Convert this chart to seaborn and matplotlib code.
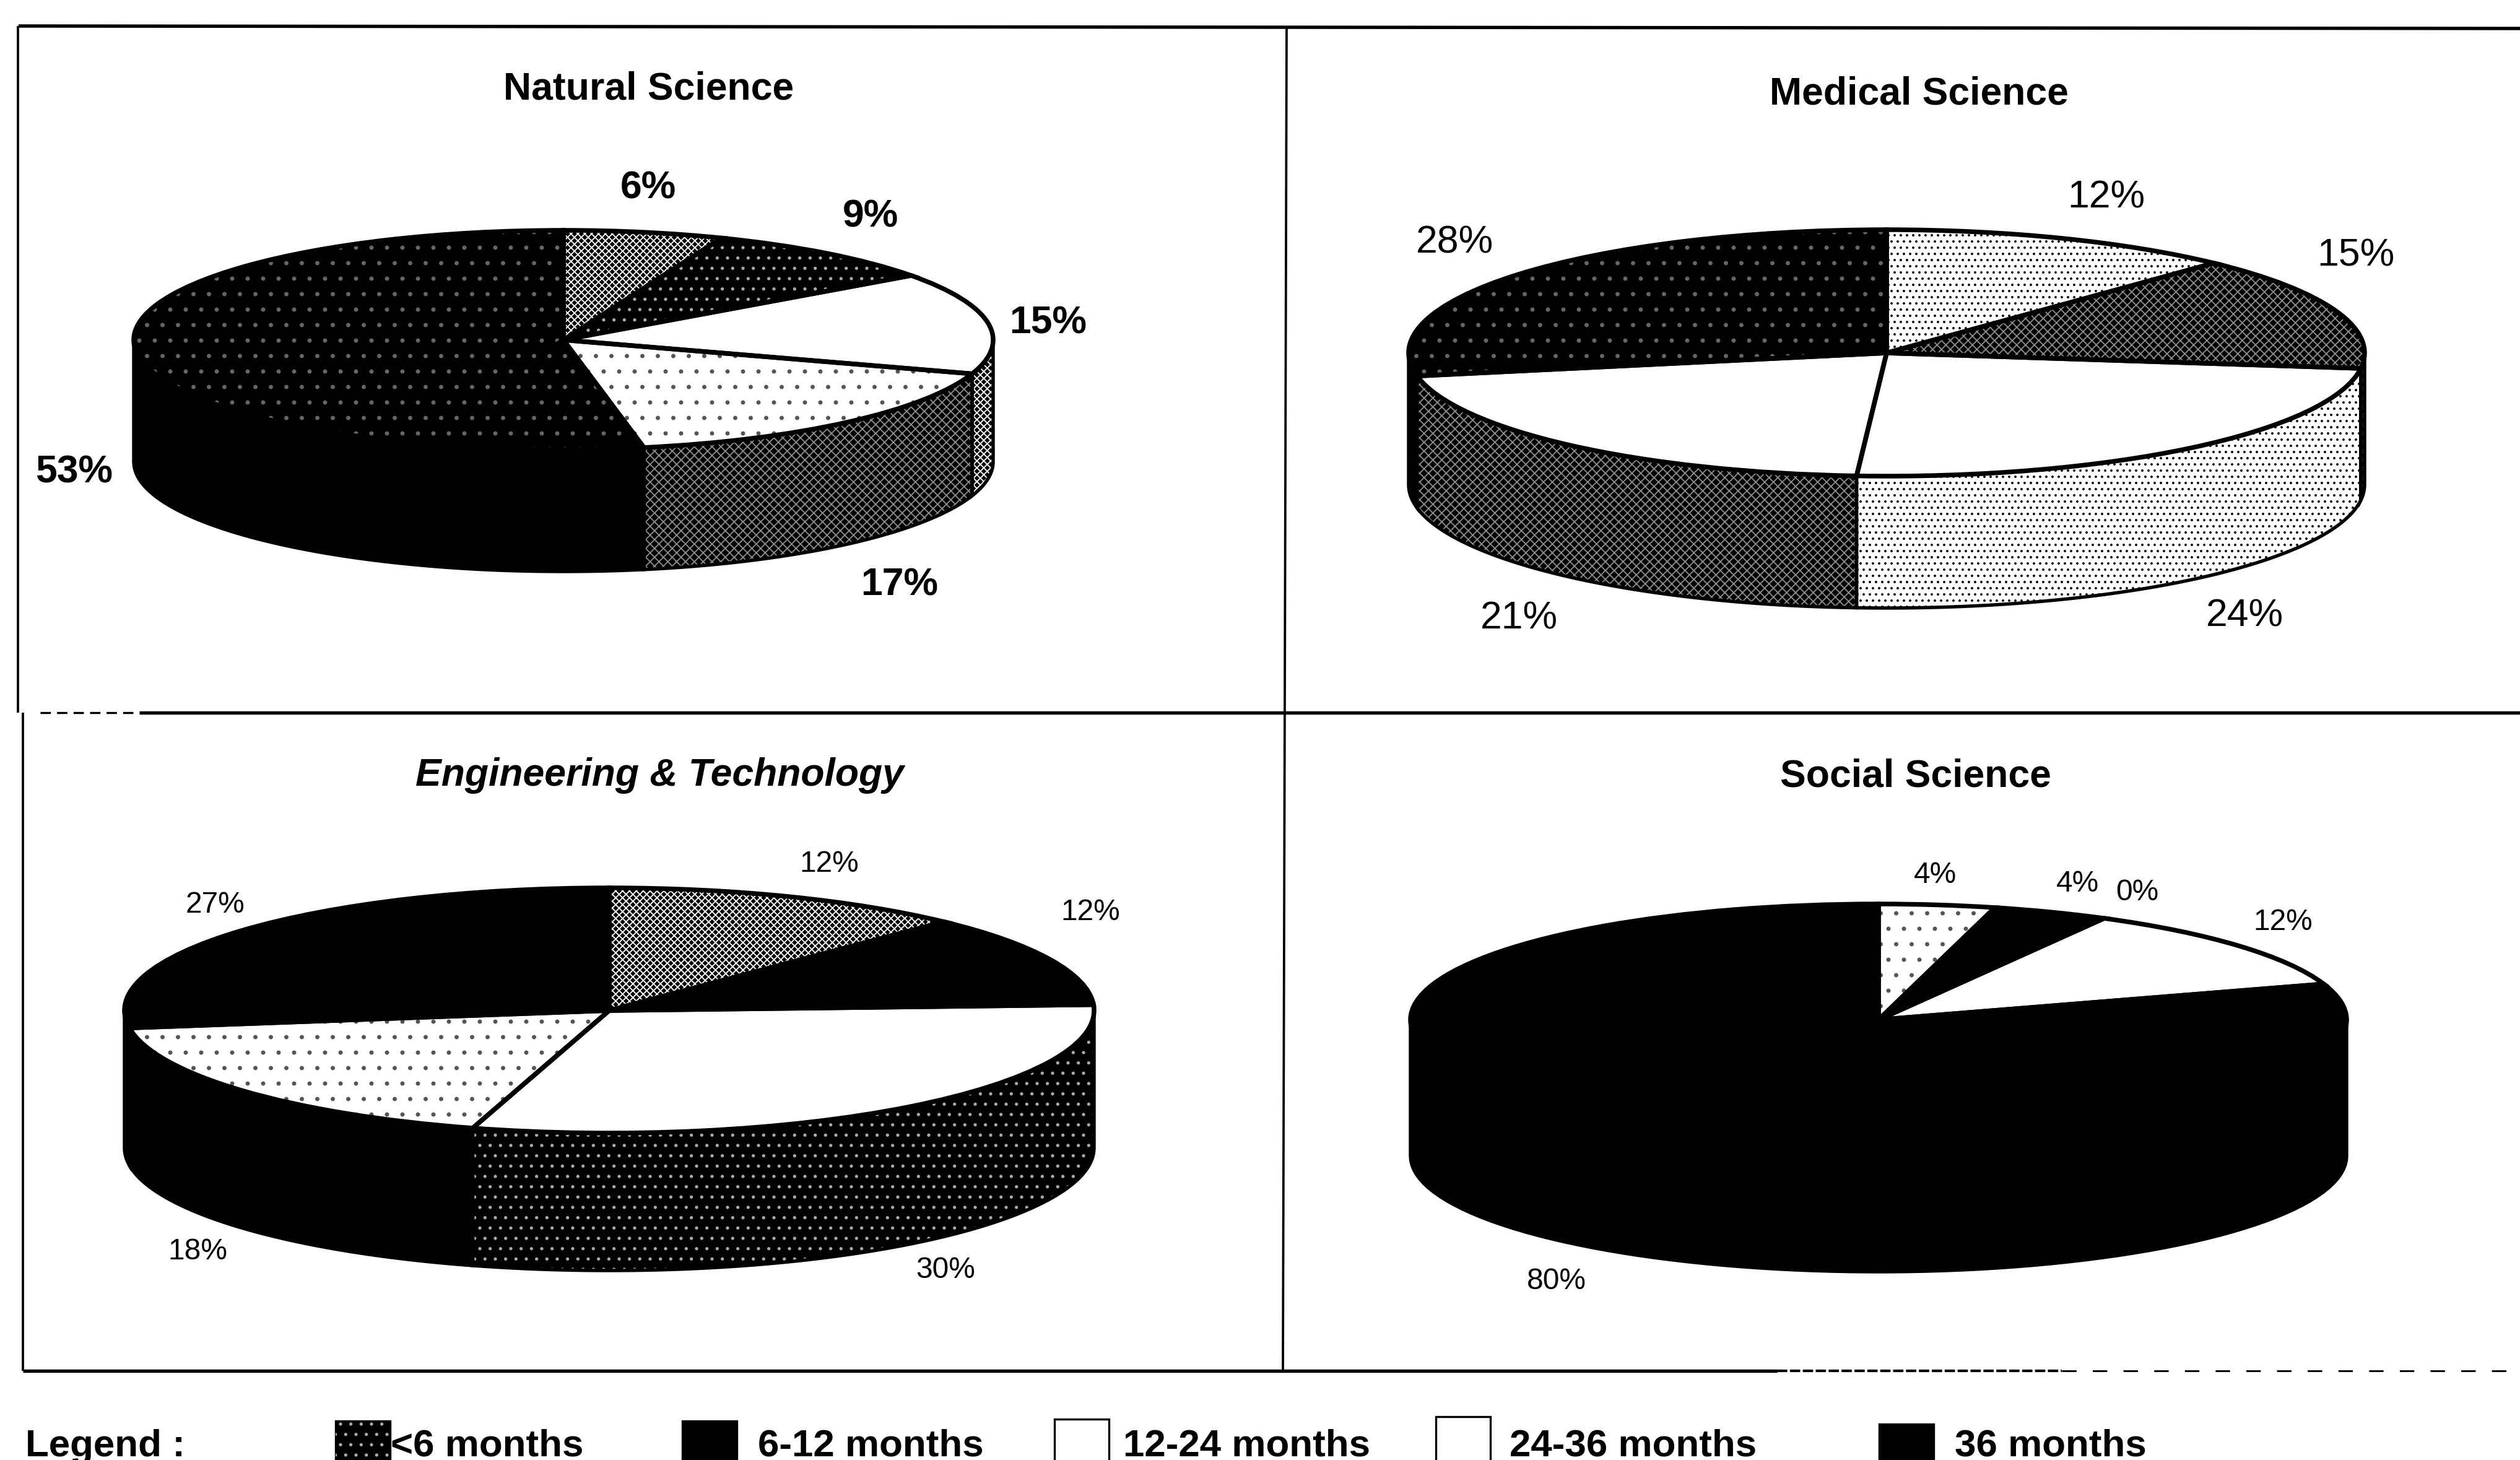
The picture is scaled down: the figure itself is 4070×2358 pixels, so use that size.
import numpy as np
import matplotlib
matplotlib.use("Agg")
import matplotlib.pyplot as plt
from matplotlib.patches import Rectangle
from matplotlib.transforms import Affine2D
import seaborn as sns

# Share of publications by time span, one list per discipline
durations = ["<6 months", "6-12 months", "12-24 months", "24-36 months", "36 months"]
natural_science = [6, 9, 15, 17, 53]
medical_science = [12, 15, 24, 21, 28]
engineering_technology = [12, 12, 30, 18, 27]
social_science = [4, 4, 0, 12, 80]

W, H = 4070, 2358
sns.set_theme(style="white")
plt.rcParams["font.family"] = ["Liberation Sans", "DejaVu Sans"]
plt.rcParams["hatch.linewidth"] = 0.45

# Print-style fills: (face, hatch colour, hatch)
FILLS = {
    "black": ("black", None, None),
    "white": ("white", None, None),
    "specks": ("black", "#666666", ".."),
    "sparse": ("black", "#aaaaaa", "..."),
    "dark": ("black", "#8c8c8c", "xxxxxxx"),
    "gray": ("black", "white", "xxxxxxxxx"),
    "light": ("white", "black", "....."),
    "speckle": ("white", "#555555", ".."),
}

# Layout of each pie: title, centre, radii, wall depth, fills, label placement
PANELS = [
    dict(title="Natural Science", values=natural_science, tx=1048, ty=144, italic=False,
         cx=910, cy=549, rx=694, ry=177, depth=197,
         top=["gray", "sparse", "white", "speckle", "specks"],
         wall=["gray", "gray", "gray", "dark", "black"],
         lab=[(1047, 304), (1406, 350), (1693, 522), (1453, 945), (120, 763)],
         size=15, weight="bold"),
    dict(title="Medical Science", values=medical_science, tx=3099, ty=152, italic=False,
         cx=3047, cy=570, rx=772, ry=199, depth=213,
         top=["light", "dark", "white", "white", "specks"],
         wall=["light", "dark", "light", "dark", "black"],
         lab=[(3402, 319), (3805, 413), (3625, 995), (2453, 999), (2349, 392)],
         size=15, weight="normal"),
    dict(title="Engineering & Technology", values=engineering_technology, tx=1065, ty=1253, italic=True,
         cx=984, cy=1632, rx=783, ry=198, depth=222,
         top=["gray", "black", "white", "speckle", "black"],
         wall=["gray", "black", "sparse", "black", "black"],
         lab=[(1339, 1395), (1761, 1473), (1527, 2052), (319, 2021), (348, 1461)],
         size=11.5, weight="normal"),
    dict(title="Social Science", values=social_science, tx=3094, ty=1254, italic=False,
         cx=3034, cy=1647, rx=756, ry=187, depth=220,
         top=["speckle", "black", "white", "white", "black"],
         wall=["black", "black", "black", "black", "black"],
         lab=[(3126, 1413), (3355, 1428), (3452, 1441), (3687, 1489), (2514, 2069)],
         size=11.5, weight="normal"),
]


def draw_wall(ax, start, end, panel, fill):
    """Side wall of one slice; only the part on the front half of the disc shows."""
    lo, hi = max(start, 90.0), min(end, 270.0)
    if hi <= lo:
        return
    t = np.radians(np.linspace(lo, hi, 80))
    x = panel["cx"] + panel["rx"] * np.sin(t)
    y = panel["cy"] - panel["ry"] * np.cos(t)
    xs = np.r_[x, x[::-1]]
    ys = np.r_[y, y[::-1] + panel["depth"]]
    face, hcol, hatch = FILLS[fill]
    ax.fill(xs, ys, facecolor=face, edgecolor="none", zorder=2)
    if hatch:
        ax.fill(xs, ys, facecolor="none", edgecolor=hcol, hatch=hatch, linewidth=0, zorder=2.1)
    ax.fill(xs, ys, facecolor="none", edgecolor="black", linewidth=1.3, zorder=2.2)


def draw_pie(ax, panel):
    values = np.asarray(panel["values"], dtype=float)
    edges = np.r_[0, np.cumsum(values)] / values.sum() * 360.0
    for i, fill in enumerate(panel["wall"]):
        draw_wall(ax, edges[i], edges[i + 1], panel, fill)

    squash = (Affine2D().scale(panel["rx"], -panel["ry"])
              .translate(panel["cx"], panel["cy"]) + ax.transData)
    faces = [FILLS[name][0] for name in panel["top"]]
    base, _ = ax.pie(values, colors=faces, startangle=90, counterclock=False, frame=True,
                     wedgeprops=dict(linewidth=0))
    for wedge in base:
        wedge.set_transform(squash)
        wedge.set_zorder(3)
    layer, _ = ax.pie(values, colors=["none"] * len(values), startangle=90, counterclock=False,
                      frame=True, wedgeprops=dict(linewidth=0))
    for wedge, name in zip(layer, panel["top"]):
        _, hcol, hatch = FILLS[name]
        wedge.set_transform(squash)
        wedge.set_zorder(3.1)
        if hatch:
            wedge.set_edgecolor(hcol)
            wedge.set_hatch(hatch)
    outline, _ = ax.pie(values, colors=["none"] * len(values), startangle=90, counterclock=False,
                        frame=True, wedgeprops=dict(linewidth=1.8, edgecolor="black"))
    for wedge in outline:
        wedge.set_transform(squash)
        wedge.set_zorder(3.2)

    for value, (lx, ly) in zip(panel["values"], panel["lab"]):
        ax.text(lx, ly, f"{value}%", ha="center", va="center", color="black",
                fontsize=panel["size"], fontweight=panel["weight"], zorder=5)
    ax.text(panel["tx"], panel["ty"], panel["title"], ha="center", va="center", color="black",
            fontsize=15, fontweight="bold", style="italic" if panel["italic"] else "normal", zorder=5)


fig = plt.figure(figsize=(W / 300, H / 300), dpi=300, facecolor="white")
ax = fig.add_axes([0, 0, 1, 1])

for panel in PANELS:
    draw_pie(ax, panel)

ax.set_aspect("auto")
ax.set_xlim(0, W)
ax.set_ylim(H, 0)
sns.despine(ax=ax, left=True, bottom=True)
ax.set_axis_off()

# Panel frame
rule = dict(color="black", solid_capstyle="butt", zorder=1)
ax.plot([30, W], [42, 46], lw=1.3, **rule)
ax.plot([29, 29], [42, 1151], lw=0.9, **rule)
ax.plot([37, 37], [1151, 2214], lw=0.9, **rule)
ax.plot([2078, 2072], [42, 2214], lw=0.9, **rule)
ax.plot([225, W], [1151, 1151], lw=1.3, **rule)
ax.plot([65, 215], [1151, 1151], lw=0.8, color="black", ls=(0, (5, 3)), zorder=1)
ax.plot([37, 2870], [2214, 2214], lw=1.3, **rule)
ax.plot([2870, 3330], [2214, 2214], lw=1.0, color="black", ls=(0, (4, 1)), zorder=1)
ax.plot([3330, W], [2214, 2214], lw=0.7, color="black", ls=(0, (8, 9)), zorder=1)

# Legend row, running off the lower edge
legend_style = dict(ha="left", va="baseline", fontsize=14.85, fontweight="bold", color="black")
ax.text(41, 2352, "Legend :", **legend_style)
swatches = [(542, 2295, "sparse"), (1102, 2295, "black"), (1703, 2292, "white"),
            (2319, 2288, "white"), (3035, 2300, "black")]
text_x = [631, 1224, 1814, 2438, 3157]
for (sx, sy, fill), lx, name in zip(swatches, text_x, durations):
    face, hcol, hatch = FILLS[fill]
    ax.add_patch(Rectangle((sx, sy), 88, 120, facecolor=face, edgecolor="black", linewidth=0.8, zorder=3))
    if hatch:
        ax.add_patch(Rectangle((sx, sy), 88, 120, facecolor="none", edgecolor=hcol, hatch=hatch, linewidth=0, zorder=3.1))
    ax.text(lx, 2352, name, **legend_style)

fig.savefig("out.png", dpi=300, facecolor="white")
